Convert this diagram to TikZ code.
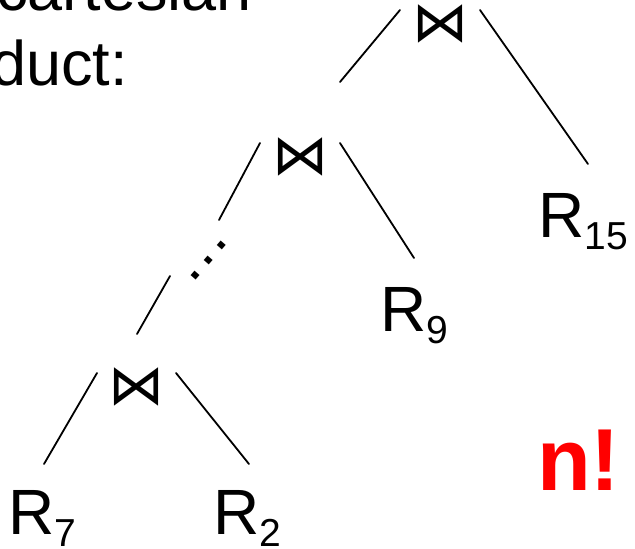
\documentclass[tikz,border=0pt]{standalone}
\usepackage{fontspec}
\setmainfont{Liberation Sans}
\newfontfamily\symfont{DejaVu Sans}
\newcommand\rsub[1]{\raisebox{-12pt}{\fontsize{39}{39}\selectfont #1}}
\begin{document}
\begin{tikzpicture}[x=1pt,y=-1pt]
\useasboundingbox (0,0) rectangle (635,549);
\clip (0,0) rectangle (635,549);
\tikzset{
  lbl/.style={inner sep=0pt, anchor=base west, font=\fontsize{64}{64}\selectfont},
  joinop/.style={inner sep=0pt, font=\symfont\fontsize{56}{56}\selectfont},
  edgeline/.style={line width=1.8pt, line cap=round},
  head/.style={inner sep=0pt, anchor=base west, font=\fontsize{63}{75}\selectfont},
}
% heading text (cut off)
\node[head] (t1) at (-4,10) {cartesian};
\node[head] (t2) at (-100,85) {product:};
% join operators
\node[joinop] (j1) at (440,24) {⋈};
\node[joinop] (j2) at (300,157) {⋈};
\node[joinop] (j3) at (136,387) {⋈};
% relations
\node[lbl] (r15) at (538,237) {R\rsub{15}};
\node[lbl] (r9) at (380,331) {R\rsub{9}};
\node[lbl] (r7) at (8,534) {R\rsub{7}};
\node[lbl] (r2) at (213,534) {R\rsub{2}};
% dots
\node[inner sep=0pt, anchor=base, rotate=49, font=\fontsize{63}{63}\selectfont] (dots) at (211,263) {…};
% n!
\node[inner sep=0pt, anchor=base west, text=red, font=\bfseries\fontsize{88}{88}\selectfont] (nf) at (537,490) {n!};
% connector end points
\coordinate (a1) at (400,10);  \coordinate (a2) at (340,82);
\coordinate (b1) at (480,10);  \coordinate (b2) at (588,164);
\coordinate (c1) at (260,143); \coordinate (c2) at (219,220);
\coordinate (d1) at (340,143); \coordinate (d2) at (414,258);
\coordinate (e1) at (170,276); \coordinate (e2) at (137,334);
\coordinate (f1) at (97,373);  \coordinate (f2) at (44,464);
\coordinate (g1) at (176,373); \coordinate (g2) at (249,464);
\draw[edgeline] (a1) -- (a2);
\draw[edgeline] (b1) -- (b2);
\draw[edgeline] (c1) -- (c2);
\draw[edgeline] (d1) -- (d2);
\draw[edgeline] (e1) -- (e2);
\draw[edgeline] (f1) -- (f2);
\draw[edgeline] (g1) -- (g2);
\end{tikzpicture}
\end{document}
